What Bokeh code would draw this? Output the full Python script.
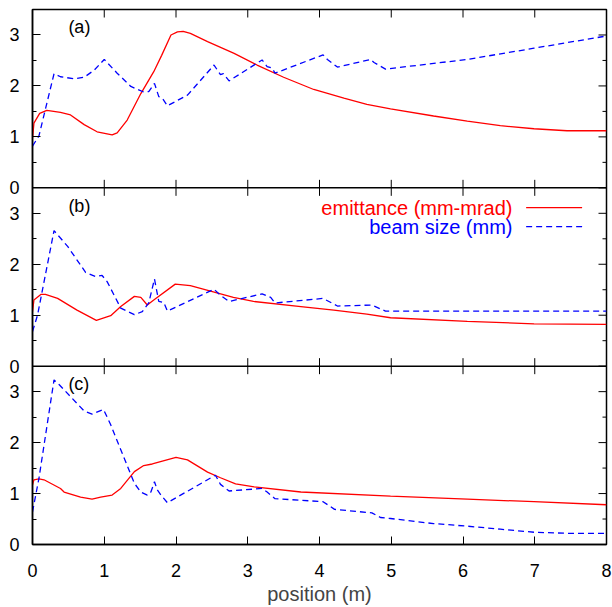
import math
from bokeh.plotting import figure
from bokeh.models import Range1d, LinearAxis, FixedTicker, Span
from bokeh.core.properties import value
from bokeh.embed import file_html
from bokeh.resources import INLINE

FONT = "Liberation Sans"

# ---------------- data ----------------
panel_names = ["(a)", "(b)", "(c)"]
x_ticks = [0, 1, 2, 3, 4, 5, 6, 7, 8]
y_ticks = [0, 1, 2, 3]
y_minor = [0.5, 1.5, 2.5]
y_max = 3.5

series_labels = ["emittance (mm-mrad)", "beam size (mm)"]

# panel (a)
xa_e = [0, 0.02, 0.1, 0.2, 0.39, 0.53, 0.72, 0.9, 1.11, 1.18, 1.32, 1.51, 1.69, 1.8, 1.93, 2.02, 2.1, 2.2,
        2.44, 2.81, 3.13, 3.5, 3.92, 4.34, 4.66, 4.99, 5.59, 6.06, 6.52, 6.99, 7.45, 8.0]
ya_e = [0.97, 1.27, 1.46, 1.52, 1.48, 1.43, 1.24, 1.10, 1.04, 1.08, 1.33, 1.85, 2.28, 2.6, 3.0, 3.06, 3.07, 3.03,
        2.87, 2.64, 2.41, 2.17, 1.93, 1.76, 1.64, 1.55, 1.41, 1.31, 1.22, 1.16, 1.12, 1.12]
xa_b = [0, 0.09, 0.3, 0.39, 0.58, 0.72, 0.86, 1.0, 1.18, 1.37, 1.55, 1.62, 1.7, 1.76, 1.81, 1.88, 2.16, 2.53,
        2.62, 2.66, 2.74, 3.2, 3.27, 3.34, 3.38, 4.05, 4.11, 4.25, 4.71, 4.76, 4.92, 6.06, 6.99, 8.0]
ya_b = [0.82, 1.02, 2.24, 2.18, 2.14, 2.17, 2.31, 2.52, 2.25, 1.99, 1.88, 1.89, 2.05, 1.79, 1.76, 1.61, 1.82, 2.41,
        2.22, 2.24, 2.10, 2.51, 2.38, 2.35, 2.25, 2.61, 2.52, 2.37, 2.52, 2.46, 2.33, 2.52, 2.74, 2.98]

# panel (b)
xb_e = [0, 0.02, 0.12, 0.18, 0.35, 0.62, 0.89, 1.09, 1.23, 1.42, 1.51, 1.6, 1.69, 1.99, 2.2, 2.52, 2.8, 3.08,
        3.74, 4.2, 4.66, 4.99, 6.06, 6.99, 8.0]
yb_e = [1.07, 1.30, 1.41, 1.41, 1.33, 1.10, 0.90, 0.99, 1.17, 1.37, 1.35, 1.20, 1.30, 1.61, 1.58, 1.46, 1.35, 1.27,
        1.17, 1.10, 1.02, 0.95, 0.88, 0.83, 0.82]
xb_b = [0, 0.07, 0.3, 0.49, 0.74, 0.88, 0.97, 1.04, 1.23, 1.42, 1.53, 1.62, 1.7, 1.76, 1.83, 1.88, 2.53, 2.62,
        2.74, 3.2, 3.32, 3.38, 4.05, 4.25, 4.73, 4.92, 8.0]
yb_b = [0.68, 1.0, 2.66, 2.35, 1.84, 1.76, 1.78, 1.66, 1.14, 1.01, 1.07, 1.24, 1.71, 1.27, 1.25, 1.08, 1.51, 1.39,
        1.27, 1.42, 1.35, 1.24, 1.33, 1.18, 1.20, 1.08, 1.08]

# panel (c)
xc_e = [0, 0.02, 0.09, 0.16, 0.39, 0.44, 0.67, 0.83, 0.95, 1.11, 1.23, 1.42, 1.55, 1.67, 2.0, 2.16, 2.44, 2.62,
        2.83, 3.09, 3.74, 4.99, 6.06, 6.99, 8.0]
yc_e = [1.17, 1.27, 1.29, 1.27, 1.10, 1.03, 0.93, 0.89, 0.93, 0.97, 1.10, 1.43, 1.55, 1.58, 1.71, 1.66, 1.42, 1.31,
        1.19, 1.13, 1.03, 0.95, 0.89, 0.84, 0.78]
xc_b = [0, 0.09, 0.3, 0.37, 0.72, 0.83, 0.99, 1.09, 1.42, 1.51, 1.6, 1.65, 1.7, 1.74, 1.79, 1.88, 2.55, 2.62,
        2.74, 3.2, 3.27, 3.38, 4.05, 4.21, 4.73, 4.85, 4.99, 5.59, 6.06, 6.52, 6.99, 7.45, 8.0]
yc_b = [0.64, 1.30, 3.23, 3.14, 2.62, 2.56, 2.65, 2.35, 1.20, 1.03, 0.97, 1.03, 1.23, 1.07, 0.97, 0.82, 1.36, 1.18,
        1.05, 1.10, 1.03, 0.90, 0.84, 0.69, 0.62, 0.53, 0.51, 0.41, 0.36, 0.30, 0.24, 0.22, 0.22]

panels = [
    ("a", xa_e, ya_e, xa_b, ya_b),
    ("b", xb_e, yb_e, xb_b, yb_b),
    ("c", xc_e, yc_e, xc_b, yc_b),
]

# ---------------- styles ----------------
RED = "#ff0000"
BLUE = "#0000ff"
DASH = "6 4"
TICK_FS = "18px"
TEXT_FS = "20px"
MAJOR = 8
MINOR = 4

n = len(panels)
p = figure(width=612, height=607, output_backend="svg", toolbar_location=None,
           x_range=Range1d(0, 8), y_range=Range1d(0, n * y_max),
           x_axis_location=None, y_axis_location=None,
           min_border_left=32, min_border_right=6, min_border_top=9, min_border_bottom=61)
p.grid.visible = False
p.outline_line_color = "black"
p.outline_line_width = 1.5
p.background_fill_color = "white"
p.border_fill_color = "white"

# each panel gets its own y scale stacked inside the frame
ranges = {}
for i, (key, *_r) in enumerate(panels):
    below = n - 1 - i  # number of panels below this one
    ranges[key] = Range1d(-below * y_max, (n - below) * y_max)
p.extra_y_ranges = {k: v for k, v in ranges.items() if k != "c"}
range_name = {"a": "a", "b": "b", "c": "default"}

# left axis: ticks of every panel on the composite frame scale
tick_pos, minor_pos, overrides = [], [], {}
for j in range(n):
    off = j * y_max
    for t in y_ticks:
        tick_pos.append(off + t)
        overrides[off + t] = str(t)
    for m in y_minor:
        minor_pos.append(off + m)


def style_axis(ax):
    ax.axis_line_color = "black"
    ax.axis_line_width = 1.5
    ax.major_tick_in = MAJOR
    ax.major_tick_out = 0
    ax.minor_tick_in = MINOR
    ax.minor_tick_out = 0
    ax.major_tick_line_width = 1
    ax.minor_tick_line_width = 1
    ax.major_label_text_font = FONT
    ax.major_label_text_font_size = TICK_FS
    ax.major_label_text_color = "black"


left = LinearAxis(ticker=FixedTicker(ticks=tick_pos, minor_ticks=minor_pos),
                  major_label_overrides=overrides)
style_axis(left)
left.major_label_standoff = 13
p.add_layout(left, "left")

bottom = LinearAxis(ticker=FixedTicker(ticks=x_ticks, minor_ticks=[]), axis_label="position (m)")
style_axis(bottom)
bottom.major_label_standoff = 19
bottom.axis_label_text_font = FONT
bottom.axis_label_text_font_size = TEXT_FS
bottom.axis_label_text_font_style = "normal"
bottom.axis_label_standoff = 3
p.add_layout(bottom, "below")

# mirrored inward ticks on right and top edges (markers centred on the edge, clipped by the frame)
x_right = x_ticks[-1]
p.scatter(x=[x_right] * len(tick_pos), y=tick_pos, marker="dash", size=2 * MAJOR,
          line_color="black", line_width=1)
p.scatter(x=[x_right] * len(minor_pos), y=minor_pos, marker="dash", size=2 * MINOR,
          line_color="black", line_width=1)
inner_x = x_ticks[1:-1]
p.scatter(x=inner_x, y=[n * y_max] * len(inner_x), marker="dash", size=2 * MAJOR,
          angle=math.pi / 2, line_color="black", line_width=1)

# panel separators with ticks both ways
for j in range(1, n):
    p.add_layout(Span(location=j * y_max, dimension="width", line_color="black", line_width=1.5))
    p.scatter(x=inner_x, y=[j * y_max] * len(inner_x), marker="dash", size=2 * MAJOR,
              angle=math.pi / 2, line_color="black", line_width=1)

# data
for (key, xe, ye, xb, yb), name in zip(panels, panel_names):
    rn = range_name[key]
    p.line(xe, ye, line_color=RED, line_width=1.3, y_range_name=rn)
    p.line(xb, yb, line_color=BLUE, line_width=1.3, line_dash=DASH, y_range_name=rn)
    p.text(x=[0.5], y=[3.15], text=[name], text_font=value(FONT), text_font_size=value(TICK_FS),
           text_align="left", text_baseline="middle", text_color="black", y_range_name=rn)

# legend (gnuplot style: text then sample) in panel (b)
leg_text_x = 6.69
leg_line_x = [6.88, 7.66]
leg_y = [3.11, 2.74]
p.text(x=[leg_text_x], y=[leg_y[0]], text=[series_labels[0]], text_font=value(FONT),
       text_font_size=value(TEXT_FS), text_align="right", text_baseline="middle",
       text_color=RED, y_range_name="b")
p.text(x=[leg_text_x], y=[leg_y[1]], text=[series_labels[1]], text_font=value(FONT),
       text_font_size=value(TEXT_FS), text_align="right", text_baseline="middle",
       text_color=BLUE, y_range_name="b")
p.line(leg_line_x, [leg_y[0]] * 2, line_color=RED, line_width=1.3, y_range_name="b")
p.line(leg_line_x, [leg_y[1]] * 2, line_color=BLUE, line_width=1.3, line_dash=DASH, y_range_name="b")

open("out.html", "w").write(file_html(p, INLINE))
